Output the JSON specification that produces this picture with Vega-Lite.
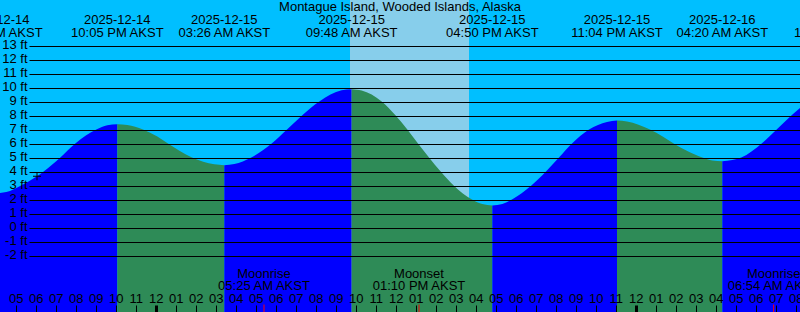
{
  "$schema": "https://vega.github.io/schema/vega-lite/v6.json",
  "width": 800,
  "height": 312,
  "autosize": {"type": "none"},
  "padding": 0,
  "background": "#00BFFF",
  "config": {"view": {"stroke": null}, "font": "Liberation Sans"},
  "datasets": {
    "sun": [
      {"t": "2025-12-15T09:43", "t2": "2025-12-15T15:40"}
    ],
    "curve": [
      {"t": "2025-12-14T16:02", "h": 2.45, "seg": 1, "phase": "rising"},
      {"t": "2025-12-14T16:32", "h": 2.53, "seg": 1, "phase": "rising"},
      {"t": "2025-12-14T17:16", "h": 3.0, "seg": 1, "phase": "rising"},
      {"t": "2025-12-14T18:04", "h": 3.66, "seg": 1, "phase": "rising"},
      {"t": "2025-12-14T18:24", "h": 4.0, "seg": 1, "phase": "rising"},
      {"t": "2025-12-14T19:14", "h": 5.0, "seg": 1, "phase": "rising"},
      {"t": "2025-12-14T19:59", "h": 6.0, "seg": 1, "phase": "rising"},
      {"t": "2025-12-14T21:02", "h": 7.0, "seg": 1, "phase": "rising"},
      {"t": "2025-12-14T21:35", "h": 7.3, "seg": 1, "phase": "rising"},
      {"t": "2025-12-14T22:05", "h": 7.38, "seg": 1, "phase": "rising"},
      {"t": "2025-12-14T22:05", "h": 7.38, "seg": 2, "phase": "falling"},
      {"t": "2025-12-14T22:35", "h": 7.32, "seg": 2, "phase": "falling"},
      {"t": "2025-12-14T23:22", "h": 7.0, "seg": 2, "phase": "falling"},
      {"t": "2025-12-15T00:05", "h": 6.5, "seg": 2, "phase": "falling"},
      {"t": "2025-12-15T00:37", "h": 6.0, "seg": 2, "phase": "falling"},
      {"t": "2025-12-15T01:10", "h": 5.5, "seg": 2, "phase": "falling"},
      {"t": "2025-12-15T01:49", "h": 5.0, "seg": 2, "phase": "falling"},
      {"t": "2025-12-15T02:56", "h": 4.51, "seg": 2, "phase": "falling"},
      {"t": "2025-12-15T03:26", "h": 4.45, "seg": 2, "phase": "falling"},
      {"t": "2025-12-15T03:26", "h": 4.45, "seg": 3, "phase": "rising"},
      {"t": "2025-12-15T03:56", "h": 4.53, "seg": 3, "phase": "rising"},
      {"t": "2025-12-15T04:47", "h": 5.0, "seg": 3, "phase": "rising"},
      {"t": "2025-12-15T05:48", "h": 6.0, "seg": 3, "phase": "rising"},
      {"t": "2025-12-15T06:34", "h": 7.0, "seg": 3, "phase": "rising"},
      {"t": "2025-12-15T07:19", "h": 8.0, "seg": 3, "phase": "rising"},
      {"t": "2025-12-15T08:11", "h": 9.0, "seg": 3, "phase": "rising"},
      {"t": "2025-12-15T09:18", "h": 9.8, "seg": 3, "phase": "rising"},
      {"t": "2025-12-15T09:48", "h": 9.88, "seg": 3, "phase": "rising"},
      {"t": "2025-12-15T09:48", "h": 9.88, "seg": 4, "phase": "falling"},
      {"t": "2025-12-15T10:18", "h": 9.78, "seg": 4, "phase": "falling"},
      {"t": "2025-12-15T11:18", "h": 9.0, "seg": 4, "phase": "falling"},
      {"t": "2025-12-15T12:00", "h": 8.0, "seg": 4, "phase": "falling"},
      {"t": "2025-12-15T12:35", "h": 7.0, "seg": 4, "phase": "falling"},
      {"t": "2025-12-15T13:07", "h": 6.0, "seg": 4, "phase": "falling"},
      {"t": "2025-12-15T13:40", "h": 5.0, "seg": 4, "phase": "falling"},
      {"t": "2025-12-15T14:15", "h": 4.0, "seg": 4, "phase": "falling"},
      {"t": "2025-12-15T14:54", "h": 3.0, "seg": 4, "phase": "falling"},
      {"t": "2025-12-15T15:49", "h": 2.0, "seg": 4, "phase": "falling"},
      {"t": "2025-12-15T16:20", "h": 1.67, "seg": 4, "phase": "falling"},
      {"t": "2025-12-15T16:50", "h": 1.57, "seg": 4, "phase": "falling"},
      {"t": "2025-12-15T16:50", "h": 1.57, "seg": 5, "phase": "rising"},
      {"t": "2025-12-15T17:20", "h": 1.67, "seg": 5, "phase": "rising"},
      {"t": "2025-12-15T17:49", "h": 2.0, "seg": 5, "phase": "rising"},
      {"t": "2025-12-15T18:47", "h": 3.0, "seg": 5, "phase": "rising"},
      {"t": "2025-12-15T19:31", "h": 4.0, "seg": 5, "phase": "rising"},
      {"t": "2025-12-15T20:10", "h": 5.0, "seg": 5, "phase": "rising"},
      {"t": "2025-12-15T20:49", "h": 6.0, "seg": 5, "phase": "rising"},
      {"t": "2025-12-15T21:40", "h": 7.0, "seg": 5, "phase": "rising"},
      {"t": "2025-12-15T22:34", "h": 7.54, "seg": 5, "phase": "rising"},
      {"t": "2025-12-15T23:04", "h": 7.64, "seg": 5, "phase": "rising"},
      {"t": "2025-12-15T23:04", "h": 7.64, "seg": 6, "phase": "falling"},
      {"t": "2025-12-15T23:34", "h": 7.58, "seg": 6, "phase": "falling"},
      {"t": "2025-12-16T00:43", "h": 7.0, "seg": 6, "phase": "falling"},
      {"t": "2025-12-16T01:21", "h": 6.5, "seg": 6, "phase": "falling"},
      {"t": "2025-12-16T01:54", "h": 6.0, "seg": 6, "phase": "falling"},
      {"t": "2025-12-16T02:32", "h": 5.5, "seg": 6, "phase": "falling"},
      {"t": "2025-12-16T03:20", "h": 5.0, "seg": 6, "phase": "falling"},
      {"t": "2025-12-16T03:50", "h": 4.79, "seg": 6, "phase": "falling"},
      {"t": "2025-12-16T04:20", "h": 4.73, "seg": 6, "phase": "falling"},
      {"t": "2025-12-16T04:20", "h": 4.73, "seg": 7, "phase": "rising"},
      {"t": "2025-12-16T04:50", "h": 4.82, "seg": 7, "phase": "rising"},
      {"t": "2025-12-16T05:17", "h": 5.0, "seg": 7, "phase": "rising"},
      {"t": "2025-12-16T06:18", "h": 6.0, "seg": 7, "phase": "rising"},
      {"t": "2025-12-16T07:03", "h": 7.0, "seg": 7, "phase": "rising"},
      {"t": "2025-12-16T07:47", "h": 8.0, "seg": 7, "phase": "rising"},
      {"t": "2025-12-16T08:30", "h": 8.85, "seg": 7, "phase": "rising"},
      {"t": "2025-12-16T09:41", "h": 9.81, "seg": 7, "phase": "rising"},
      {"t": "2025-12-16T10:11", "h": 9.9, "seg": 7, "phase": "rising"}
    ],
    "marker": [
      {"t": "2025-12-14T18:04", "h": 3.66}
    ],
    "events": [
      {"t": "2025-12-14T16:02", "date": "2025-12-14", "label": "04:02 PM AKST"},
      {"t": "2025-12-14T22:05", "date": "2025-12-14", "label": "10:05 PM AKST"},
      {"t": "2025-12-15T03:26", "date": "2025-12-15", "label": "03:26 AM AKST"},
      {"t": "2025-12-15T09:48", "date": "2025-12-15", "label": "09:48 AM AKST"},
      {"t": "2025-12-15T16:50", "date": "2025-12-15", "label": "04:50 PM AKST"},
      {"t": "2025-12-15T23:04", "date": "2025-12-15", "label": "11:04 PM AKST"},
      {"t": "2025-12-16T04:20", "date": "2025-12-16", "label": "04:20 AM AKST"},
      {"t": "2025-12-16T10:11", "date": "2025-12-16", "label": "10:11 AM AKST"}
    ],
    "moon": [
      {"t": "2025-12-15T05:25", "name": "Moonrise", "label": "05:25 AM AKST"},
      {"t": "2025-12-15T13:10", "name": "Moonset", "label": "01:10 PM AKST"},
      {"t": "2025-12-16T06:54", "name": "Moonrise", "label": "06:54 AM AKST"}
    ],
    "title": [
      {"t": "2025-12-15T12:13", "text": "Montague Island, Wooded Islands, Alaska"}
    ]
  },
  "encoding": {
    "x": {
      "field": "t",
      "type": "temporal",
      "scale": {
        "domain": [
          {"year": 2025, "month": 12, "date": 14, "hours": 16, "minutes": 13},
          {"year": 2025, "month": 12, "date": 16, "hours": 8, "minutes": 13}
        ],
        "nice": false
      },
      "axis": {
        "orient": "bottom",
        "title": null,
        "format": "%I",
        "tickCount": 40,
        "tickSize": -7,
        "tickColor": "black",
        "tickWidth": {"condition": {"test": "hours(datum.value) === 0", "value": 3}, "value": 1},
        "labelPadding": -3,
        "labelBaseline": "alphabetic",
        "labelFont": "Liberation Sans",
        "labelFontSize": 13,
        "labelColor": "black",
        "labelOverlap": false,
        "labelBound": false,
        "labelFlush": false,
        "domain": false,
        "grid": false,
        "zindex": 1
      }
    }
  },
  "layer": [
    {
      "data": {"name": "sun"},
      "mark": {"type": "rect", "color": "#87CEEB"},
      "encoding": {"x2": {"field": "t2"}}
    },
    {
      "data": {"name": "curve"},
      "mark": {"type": "area", "interpolate": "monotone", "clip": true, "opacity": 1},
      "encoding": {
        "y": {
          "field": "h",
          "type": "quantitative",
          "stack": null,
          "scale": {"domain": [-6.0357, 16.25], "nice": false, "zero": false},
          "axis": {
            "orient": "left",
            "title": null,
            "tickCount": 24,
            "values": [-2, -1, 0, 1, 2, 3, 4, 5, 6, 7, 8, 9, 10, 11, 12, 13],
            "labelExpr": "datum.value + ' ft'",
            "ticks": true,
            "tickSize": 0,
            "labelPadding": -27,
            "labelAlign": "right",
            "labelBaseline": "middle",
            "labelOffset": -1,
            "labelOverlap": false,
            "labelFont": "Liberation Sans",
            "labelFontSize": 13,
            "labelColor": "black",
            "domain": false,
            "grid": true,
            "gridColor": "black",
            "gridOpacity": 1,
            "gridWidth": 1,
            "gridDash": [771, 29],
            "gridDashOffset": 771,
            "zindex": 1
          }
        },
        "y2": {"datum": -6.0357},
        "color": {
          "field": "phase",
          "type": "nominal",
          "scale": {"domain": ["rising", "falling"], "range": ["#0000FF", "#2E8B57"]},
          "legend": null
        },
        "detail": {"field": "seg", "type": "nominal"}
      }
    },
    {
      "data": {"name": "marker"},
      "mark": {"type": "point", "shape": "M-1,0H1M0,-1V1", "size": 64, "filled": false, "color": "black", "strokeWidth": 1, "opacity": 1},
      "encoding": {"y": {"field": "h", "type": "quantitative"}}
    },
    {
      "data": {"name": "moon"},
      "mark": {"type": "rule", "color": "#FF0000", "strokeWidth": 1},
      "encoding": {"y": {"datum": -5.5}, "y2": {"datum": -6.0357}}
    },
    {
      "data": {"name": "title"},
      "mark": {"type": "text", "font": "Liberation Sans", "fontSize": 13, "color": "black", "align": "center", "baseline": "alphabetic"},
      "encoding": {"y": {"datum": 15.47}, "text": {"field": "text"}}
    },
    {
      "data": {"name": "events"},
      "mark": {"type": "text", "font": "Liberation Sans", "fontSize": 13, "color": "black", "align": "center", "baseline": "alphabetic"},
      "encoding": {"y": {"datum": 14.536}, "text": {"field": "date"}}
    },
    {
      "data": {"name": "events"},
      "mark": {"type": "text", "font": "Liberation Sans", "fontSize": 13, "color": "black", "align": "center", "baseline": "alphabetic"},
      "encoding": {"y": {"datum": 13.629}, "text": {"field": "label"}}
    },
    {
      "data": {"name": "moon"},
      "mark": {"type": "text", "font": "Liberation Sans", "fontSize": 13, "color": "black", "align": "center", "baseline": "alphabetic"},
      "encoding": {"y": {"datum": -3.629}, "text": {"field": "name"}}
    },
    {
      "data": {"name": "moon"},
      "mark": {"type": "text", "font": "Liberation Sans", "fontSize": 13, "color": "black", "align": "center", "baseline": "alphabetic"},
      "encoding": {"y": {"datum": -4.464}, "text": {"field": "label"}}
    }
  ]
}
